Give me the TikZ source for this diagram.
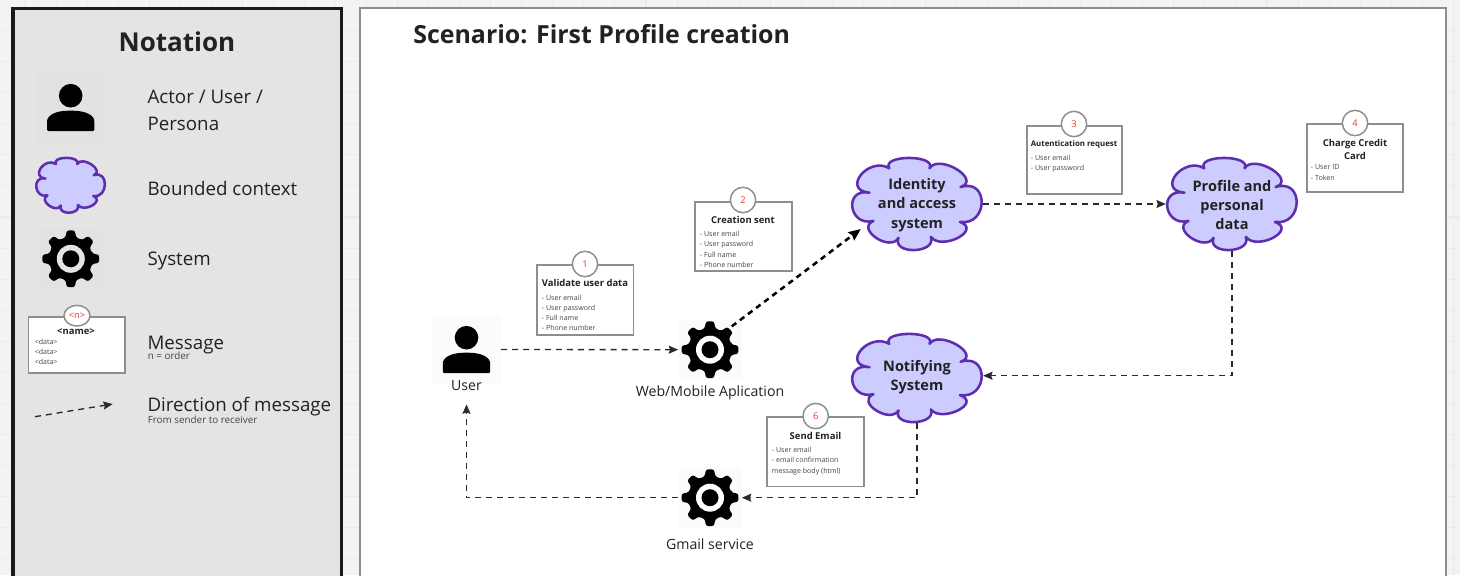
\documentclass[tikz,border=0pt]{standalone}
\usepackage{fontspec}
\setmainfont{Open Sans}
\usetikzlibrary{arrows.meta,shapes.geometric,calc}
\definecolor{bgc}{HTML}{F3F3F3}
\definecolor{gridc}{HTML}{EBEBEB}
\definecolor{panelc}{HTML}{E4E4E4}
\definecolor{darkc}{HTML}{1A1A1A}
\definecolor{flowc}{HTML}{2A2A2A}
\definecolor{edgec}{HTML}{8E8E8E}
\definecolor{purp}{HTML}{5E2DB0}
\definecolor{lav}{HTML}{CCCCFF}
\definecolor{redc}{HTML}{EE3333}
\definecolor{txt}{HTML}{222222}
\definecolor{smalltxt}{HTML}{444444}
\definecolor{backA}{HTML}{FBFBFB}
\definecolor{backB}{HTML}{E2E2E2}
\newcommand{\fsz}[2]{\fontsize{#1}{#2}\selectfont}
\tikzset{
  notationpanel/.style={draw=darkc,fill=panelc,line width=2.6pt},
  scenariopanel/.style={draw=edgec,fill=white,line width=1.3pt},
  cloudline/.style={draw=purp,fill=lav,line width=1.9pt,line join=round},
  cloudnode/.style={shape=ellipse,inner sep=0pt},
  cloudtext/.style={inner sep=0pt,align=center,text=txt,font=\bfseries\fsz{10.9}{14.6}},
  iconnode/.style={shape=circle,inner sep=0pt,minimum size=47.5pt},
  iconlabel/.style={text=txt,font=\fsz{10.6}{14},inner sep=0pt},
  msgbox/.style={draw=edgec,fill=white,line width=1.3pt,inner sep=0pt},
  msgnum/.style={shape=circle,draw=edgec,fill=white,line width=1.1pt,inner sep=0pt,minimum size=19pt,text=redc,font=\fsz{7}{8}},
  msgtitle/.style={inner sep=0pt,align=center,text=txt,font=\bfseries\fsz{7.1}{9.7}},
  msgdata/.style={inner sep=0pt,anchor=north west,align=left,text=smalltxt,font=\fsz{5.3}{7.65}},
  notelabel/.style={anchor=west,inner sep=0pt,text=txt,align=left,font=\fsz{14.05}{20.2}},
  notesmall/.style={anchor=west,inner sep=0pt,text=smalltxt,font=\fsz{7.4}{9}},
  flow/.style={draw=flowc,line width=1pt,dash pattern=on 4.5pt off 3.7pt,-{Stealth[length=7pt,width=6pt,inset=1pt]}},
  flowthick/.style={draw=black,line width=1.9pt,dash pattern=on 4.2pt off 3.4pt,-{Stealth[length=9pt,width=7.5pt,inset=1pt]}},
}
\newcommand{\bmp}[3]{.. controls ($1.3333*(#2)+.5333*(#1)-.8667*(#3)$) and ($1.3333*(#2)-.8667*(#1)+.5333*(#3)$) .. (#3)}
% cloud outline in unit coordinates
\newcommand{\cloudshape}[4]{%
 \begin{scope}[shift={(#1,#2)},x=#3*0.75pt,y=-#4*0.75pt]
 \coordinate (va) at (-.28,.72);
 \coordinate (vb) at (-.66,.36);
 \coordinate (vc) at (-.72,-.24);
 \coordinate (vd) at (-.42,-.76);
 \coordinate (ve) at (.19,-.76);
 \coordinate (vf) at (.66,-.36);
 \coordinate (vg) at (.65,.38);
 \coordinate (vh) at (.21,.70);
 \coordinate (pa) at (-.62,.72);
 \coordinate (pb) at (-.98,.07);
 \coordinate (pc) at (-.85,-.62);
 \coordinate (pd) at (-.12,-.98);
 \coordinate (pe) at (.60,-.74);
 \coordinate (pf) at (.98,-.03);
 \coordinate (pg) at (.62,.72);
 \coordinate (ph) at (-.04,.98);
 \path[cloudline] (va) \bmp{va}{pa}{vb} \bmp{vb}{pb}{vc} \bmp{vc}{pc}{vd} \bmp{vd}{pd}{ve}
   \bmp{ve}{pe}{vf} \bmp{vf}{pf}{vg} \bmp{vg}{pg}{vh} \bmp{vh}{ph}{va} -- cycle;
 \end{scope}}
% gear icon: cx, cy, ring colour
\newcommand{\gearshape}[3]{%
 \begin{scope}[shift={(#1,#2)}]
 \fill[black,rounded corners=1.6pt] (-14:22)
  \foreach \a in {0,45,...,315}{ -- ({\a-14}:22) -- ({\a-8}:28.6) -- ({\a+8}:28.6) -- ({\a+14}:22) } -- cycle;
 \fill[#3] (0,0) circle (14);
 \fill[black] (0,0) circle (8.5);
 \end{scope}}
% person icon: cx, cy of head
\newcommand{\personshape}[2]{%
 \begin{scope}[shift={(#1,#2)}]
 \fill[black] (0,0) circle (11.8);
 \fill[black,rounded corners=1.5pt] (-23.7,35.5) -- (-23.7,28)
   .. controls (-23.7,19) and (-14,15) .. (0,15)
   .. controls (14,15) and (23.7,19) .. (23.7,28) -- (23.7,35.5) -- cycle;
 \end{scope}}
\begin{document}
\begin{tikzpicture}[x=0.75pt,y=-0.75pt]
\path[use as bounding box] (0,0) rectangle (1460,575);
\clip (0,0) rectangle (1460,575);
\fill[bgc] (0,0) rectangle (1460,575);
\foreach \i in {0,...,47} \draw[gridc,line width=.8pt] ({25+\i*31.05},0) -- ({25+\i*31.05},575);
\foreach \i in {0,...,18} \draw[gridc,line width=.8pt] (0,{30.7+\i*31.05}) -- (1460,{30.7+\i*31.05});
% panels
\path[notationpanel] (12.8,8.5) rectangle (341.7,590);
\path[scenariopanel] (360,8) rectangle (1445.7,590);
% notation
\node[inner sep=0pt,text=txt,font=\bfseries\fsz{19.5}{24}] (nottitle) at (177,42) {Notation};
\node[inner sep=0pt,anchor=west,text=txt,font=\bfseries\fsz{18.7}{24}] (scentitle) at (413,34) {Scenario: First Profile creation};
\fill[backB] (36,73) rectangle (105.3,142);
\personshape{70.7}{95.7}
\node[notelabel] (n1) at (147.3,110) {Actor / User /\\Persona};
\cloudshape{70.6}{185.3}{35}{28}
\node[notelabel] (n2) at (147.3,188) {Bounded context};
\fill[backB] (40,228) rectangle (101.7,290);
\gearshape{70.8}{258.8}{panelc}
\node[notelabel] (n3) at (147.3,261) {System};
\node[msgbox,minimum width=72.4pt,minimum height=42.5pt] (nbox) at (76.8,345) {};
\node[shape=ellipse,draw=edgec,fill=white,line width=1.1pt,inner sep=0pt,minimum width=19.5pt,minimum height=15.5pt,text=redc,font=\fsz{7}{8}] (nnum) at (77,315.7) {<n>};
\node[msgtitle] (nname) at (76,332) {<name>};
\node[msgdata] (ndata) at (34.5,338.5) {<data>\\<data>\\<data>};
\node[notelabel] (n4) at (147.3,345) {Message};
\node[notesmall] (n4s) at (147.5,355.5) {n = order};
\node[notelabel] (n5) at (147.3,407) {Direction of message};
\node[notesmall] (n5s) at (147.5,420) {From sender to receiver};
\coordinate (legA) at (35,416.7);
\coordinate (legB) at (112.7,404);
\draw[flow] (legA) -- (legB);
% scenario icons
\fill[backA] (432,315) rectangle (501,384);
\personshape{466.5}{337.7}
\node[shape=rectangle,inner sep=0pt,minimum width=51.7pt,minimum height=51.7pt] (user) at (466.5,349.5) {};
\node[iconlabel,minimum height=28pt] (userlabel) at (466.5,385.5) {User};
\fill[backA] (679,319) rectangle (742,380);
\gearshape{710}{349.7}{white}
\node[iconnode] (web) at (710,349.7) {};
\node[iconlabel] (weblabel) at (710,393) {Web/Mobile Aplication};
\fill[backA] (679,467) rectangle (742,528);
\gearshape{710}{497.7}{white}
\node[iconnode] (gmail) at (710,497.7) {};
\node[iconlabel] (gmaillabel) at (710,544) {Gmail service};
% clouds
\cloudshape{917}{204}{66}{47}
\node[cloudnode,minimum width=99pt,minimum height=70.5pt] (identity) at (917,204) {};
\node[cloudtext] (identityt) at (917,205) {Identity\\and access\\system};
\cloudshape{1232}{204}{66}{47}
\node[cloudnode,minimum width=99pt,minimum height=70.5pt] (profile) at (1232,204) {};
\node[cloudtext] (profilet) at (1232,205) {Profile and\\personal\\data};
\cloudshape{917}{378}{66}{45}
\node[cloudnode,minimum width=99pt,minimum height=67.5pt] (notify) at (917,378) {};
\node[cloudtext] (notifyt) at (917,377) {Notifying\\System};
% messages
\node[msgbox,minimum width=72.5pt,minimum height=52.5pt] (m1) at (585.2,300) {};
\node[msgnum] (c1) at (585,264) {1};
\node[msgtitle] (t1) at (585,283) {Validate user data};
\node[msgdata] (d1) at (541.7,294.7) {- User email\\- User password\\- Full name\\- Phone number};
\node[msgbox,minimum width=72.5pt,minimum height=51.8pt] (m2) at (743.4,236.2) {};
\node[msgnum] (c2) at (743,200) {2};
\node[msgtitle] (t2) at (743,220) {Creation sent};
\node[msgdata] (d2) at (699.7,231) {- User email\\- User password\\- Full name\\- Phone number};
\node[msgbox,minimum width=71.3pt,minimum height=51pt] (m3) at (1074.5,160) {};
\node[msgnum] (c3) at (1074,124) {3};
\node[msgtitle,font=\bfseries\fsz{5.9}{9}] (t3) at (1074,144) {Autentication request};
\node[msgdata] (d3) at (1030.7,155) {- User email\\- User password};
\node[msgbox,minimum width=72pt,minimum height=51pt] (m4) at (1355,158) {};
\node[msgnum] (c4) at (1355,123) {4};
\node[msgtitle] (t4) at (1355,149) {Charge Credit\\Card};
\node[msgdata] (d4) at (1310.7,164.5) {- User ID\\- Token};
\node[msgbox,minimum width=73pt,minimum height=52pt] (m6) at (815.3,451.8) {};
\node[msgnum] (c6) at (815.7,416) {6};
\node[msgtitle] (t6) at (815.5,435.7) {Send Email};
\node[msgdata] (d6) at (771.7,447) {- User email\\- email confirmation\\message body (html)};
% connectors
\draw[flow] (user.east) -- (web.west);
\draw[flowthick] (web.47) -- (identity.204);
\draw[flow] (identity.east) -- (profile.west);
\draw[flow] (profile.south) |- (notify.2);
\draw[flow] (notify.south) |- (gmail.east);
\draw[flow] (gmail.west) -| (userlabel.south);
\end{tikzpicture}
\end{document}
